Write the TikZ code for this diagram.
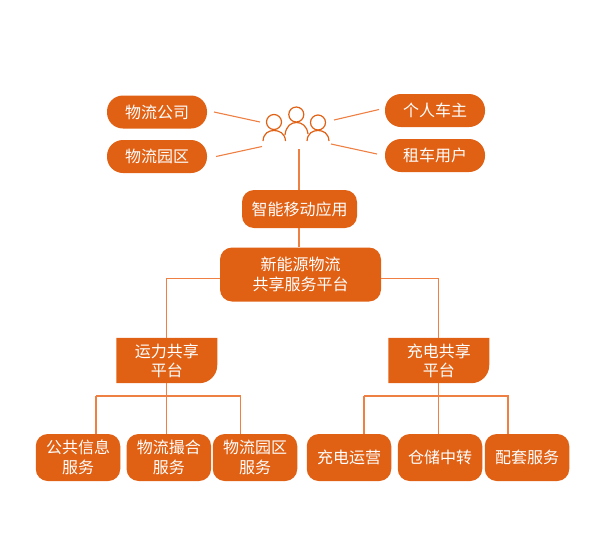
\documentclass[tikz,border=0pt]{standalone}
\usepackage{xcolor}
\usepackage{fontspec}
\setmainfont{Noto Sans CJK SC}
\usepackage{tikz}
\usetikzlibrary{backgrounds}
\definecolor{boxorange}{HTML}{E06014}
\definecolor{lineorange}{HTML}{EE8044}

\begin{document}
\begin{tikzpicture}[
    x=1pt, y=-1pt,
    pill/.style={rounded corners=16pt, minimum width=100pt, minimum height=33pt,
                 inner sep=0pt, align=center, fill=boxorange, text=white,
                 font=\fontsize{16}{19.5}\selectfont},
    appbox/.style={pill, rounded corners=12pt, minimum width=115pt, minimum height=38pt},
    hubbox/.style={pill, rounded corners=12pt, minimum width=161pt, minimum height=54pt},
    tabbox/.style={minimum width=100.5pt, minimum height=45pt, inner sep=0pt, align=center,
                   text=white, font=\fontsize{16}{19}\selectfont},
    svc/.style={pill, rounded corners=12pt, minimum width=84.5pt, minimum height=47pt},
    line/.style={draw=lineorange, line width=1.1pt},
    person/.style={draw=boxorange, line width=1.2pt}
]
\useasboundingbox (0,0) rectangle (595,536);

\node[pill]   (company)  at (157,112)     {物流公司};
\node[pill]   (park)     at (157,156.5)   {物流园区};
\node[pill]   (owner)    at (435,110.5)   {个人车主};
\node[pill]   (renter)   at (435,155.5)   {租车用户};
\node[appbox] (app)      at (299.5,209)   {智能移动应用};
\node[hubbox] (hub)      at (300.5,274.5) {新能源物流\\共享服务平台};
\node[tabbox] (transport) at (166.8,360.5) {\raisebox{-1pt}{运力共享}\\\raisebox{-1pt}{平台}};
\node[tabbox] (charging)  at (438.8,360.5) {\raisebox{-1pt}{充电共享}\\\raisebox{-1pt}{平台}};
\node[svc]    (info)     at (78,457.5)    {公共信息\\服务};
\node[svc]    (match)    at (168.8,457.5) {物流撮合\\服务};
\node[svc]    (parksvc)  at (255,457.5)   {物流园区\\服务};
\node[svc]    (chargeop) at (349,457.5)   {充电运营};
\node[svc]    (storage)  at (440,457.5)   {仓储中转};
\node[svc]    (extras)   at (527,457.5)   {配套服务};

\begin{pgfonlayer}{background}
\foreach \tab in {transport,charging}
    \fill[boxorange] (\tab.north west) -- (\tab.north east) -- ([yshift=18pt]\tab.south east)
        arc[start angle=0, end angle=-90, radius=18pt] -- (\tab.south west) -- cycle;
\end{pgfonlayer}

% people
\coordinate (lefthead)  at (274,122);
\coordinate (midhead)   at (296.3,114.5);
\coordinate (righthead) at (318,122.5);
\draw[person] (lefthead) circle (7.5);
\draw[person] (midhead) circle (7.5);
\draw[person] (righthead) circle (7.5);
\draw[person] (263,141) .. controls (263.5,133) and (269,130.5) .. (274,130.5)
    .. controls (279,130.5) and (285,133) .. (285.5,141);
\draw[person] (285,135) .. controls (286,126) and (291,122.5) .. (296.5,122.5)
    .. controls (302,122.5) and (307,126) .. (308,134);
\draw[person] (307,141) .. controls (307.5,133) and (313,130.5) .. (318,130.5)
    .. controls (323,130.5) and (328.5,133) .. (329,141);

\coordinate (ulfree)   at (214,112);
\coordinate (ulpeople) at (260,122);
\coordinate (llfree)   at (216,156.5);
\coordinate (llpeople) at (262,146.5);
\coordinate (urfree)   at (379,109.5);
\coordinate (urpeople) at (334,120);
\coordinate (lrfree)   at (377,154);
\coordinate (lrpeople) at (331,144);
\coordinate (midpeople) at (299,149);
\coordinate (hubleft)  at (220,278.5);
\coordinate (hubright) at (381,278.5);
\coordinate (leftstart)  at (95.5,396);
\coordinate (leftend)    at (241,396);
\coordinate (rightstart) at (363.5,396);
\coordinate (rightend)   at (509,396);
\coordinate (infotop)    at (96,434);
\coordinate (parksvctop) at (240.5,434);
\coordinate (chargetop)  at (364,434);
\coordinate (extrastop)  at (508,434);

\draw[line] (ulfree) -- (ulpeople);
\draw[line] (llfree) -- (llpeople);
\draw[line] (urfree) -- (urpeople);
\draw[line] (lrfree) -- (lrpeople);
\draw[line] (midpeople) -- (midpeople |- app.north);
\draw[line] (midpeople |- app.south) -- (midpeople |- hub.north);
\draw[line] (hubleft) -| (transport.north);
\draw[line] (hubright) -| (charging.north);

\draw[line] (transport.south) -- (transport.south |- match.north);
\draw[line] (leftstart) -- (leftend);
\draw[line] (infotop |- leftstart) -- (infotop);
\draw[line] (parksvctop |- leftstart) -- (parksvctop);
\draw[line] (charging.south) -- (charging.south |- storage.north);
\draw[line] (rightstart) -- (rightend);
\draw[line] (chargetop |- rightstart) -- (chargetop);
\draw[line] (extrastop |- rightstart) -- (extrastop);
\end{tikzpicture}
\end{document}
